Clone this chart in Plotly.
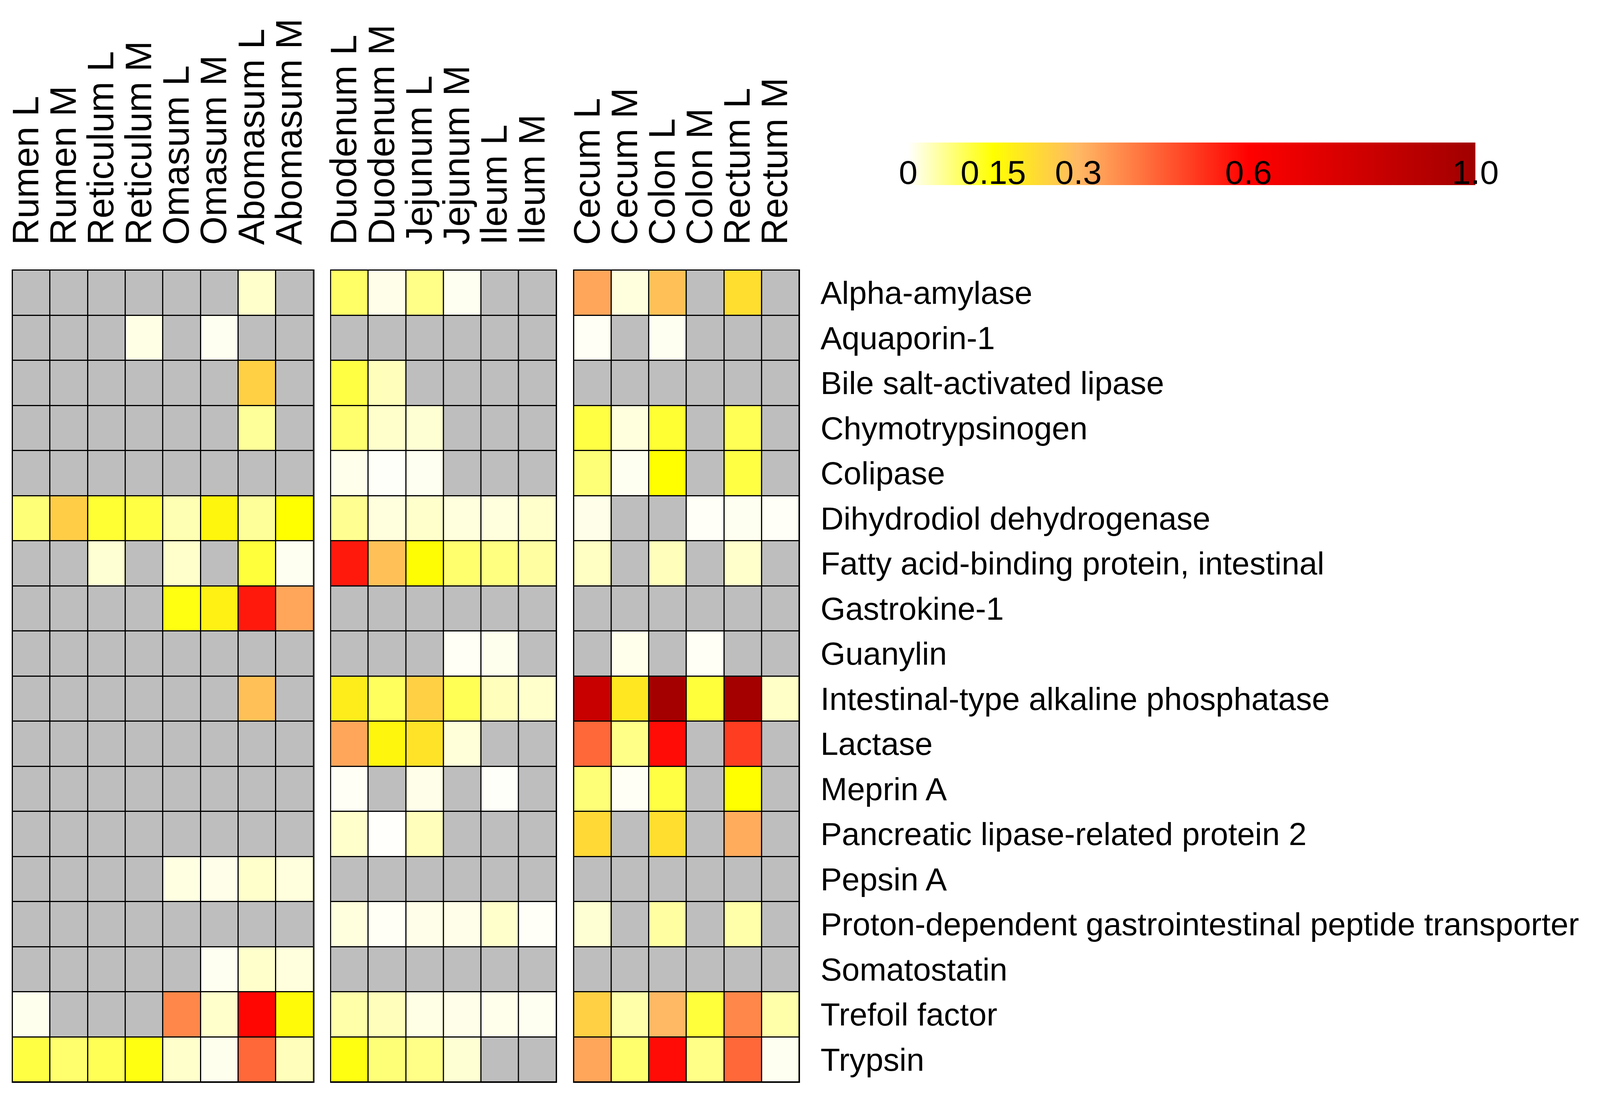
import plotly.graph_objects as go

genes = ["Alpha-amylase", "Aquaporin-1", "Bile salt-activated lipase", "Chymotrypsinogen",
         "Colipase", "Dihydrodiol dehydrogenase", "Fatty acid-binding protein, intestinal",
         "Gastrokine-1", "Guanylin", "Intestinal-type alkaline phosphatase", "Lactase",
         "Meprin A", "Pancreatic lipase-related protein 2", "Pepsin A",
         "Proton-dependent gastrointestinal peptide transporter", "Somatostatin",
         "Trefoil factor", "Trypsin"]

stomach_cols = ["Rumen L", "Rumen M", "Reticulum L", "Reticulum M",
                "Omasum L", "Omasum M", "Abomasum L", "Abomasum M"]
small_cols = ["Duodenum L", "Duodenum M", "Jejunum L", "Jejunum M", "Ileum L", "Ileum M"]
large_cols = ["Cecum L", "Cecum M", "Colon L", "Colon M", "Rectum L", "Rectum M"]

N = None
stomach_vals = [
    [N, N, N, N, N, N, 0.03, N],
    [N, N, N, 0.015, N, 0.008, N, N],
    [N, N, N, N, N, N, 0.25, N],
    [N, N, N, N, N, N, 0.06, N],
    [N, N, N, N, N, N, N, N],
    [0.08, 0.255, 0.12, 0.11, 0.045, 0.17, 0.06, 0.15],
    [N, N, 0.025, N, 0.03, N, 0.115, 0.008],
    [N, N, N, N, 0.14, 0.18, 0.56, 0.33],
    [N, N, N, N, N, N, N, N],
    [N, N, N, N, N, N, 0.28, N],
    [N, N, N, N, N, N, N, N],
    [N, N, N, N, N, N, N, N],
    [N, N, N, N, N, N, N, N],
    [N, N, N, N, 0.017, 0.013, 0.03, 0.02],
    [N, N, N, N, N, N, N, N],
    [N, N, N, N, N, 0.008, 0.03, 0.02],
    [0.01, N, N, N, 0.38, 0.03, 0.59, 0.16],
    [0.11, 0.085, 0.1, 0.14, 0.03, 0.01, 0.43, 0.04],
]
small_vals = [
    [0.09, 0.013, 0.07, 0.008, N, N],
    [N, N, N, N, N, N],
    [0.11, 0.04, N, N, N, N],
    [0.085, 0.03, 0.025, N, N, N],
    [0.012, 0.003, 0.008, N, N, N],
    [0.065, 0.02, 0.03, 0.02, 0.02, 0.03],
    [0.56, 0.28, 0.155, 0.085, 0.075, 0.055],
    [N, N, N, N, N, N],
    [N, N, N, 0.006, 0.01, N],
    [0.19, 0.095, 0.25, 0.1, 0.04, 0.03],
    [0.33, 0.17, 0.21, 0.022, N, N],
    [0.006, N, 0.013, N, 0.003, N],
    [0.03, 0.002, 0.04, N, N, N],
    [N, N, N, N, N, N],
    [0.02, 0.006, 0.013, 0.013, 0.03, 0.004],
    [N, N, N, N, N, N],
    [0.05, 0.04, 0.015, 0.013, 0.012, 0.008],
    [0.14, 0.08, 0.07, 0.025, N, N],
]
large_vals = [
    [0.33, 0.02, 0.28, N, 0.22, N],
    [0.006, N, 0.008, N, N, N],
    [N, N, N, N, N, N],
    [0.11, 0.02, 0.12, N, 0.1, N],
    [0.08, 0.008, 0.15, N, 0.11, N],
    [0.013, N, N, 0.004, 0.008, 0.004],
    [0.035, N, 0.04, N, 0.03, N],
    [N, N, N, N, N, N],
    [N, 0.012, N, 0.006, N, N],
    [0.83, 0.2, 0.98, 0.115, 0.98, 0.033],
    [0.43, 0.07, 0.58, N, 0.5, N],
    [0.08, 0.006, 0.11, N, 0.15, N],
    [0.23, N, 0.22, N, 0.32, N],
    [N, N, N, N, N, N],
    [0.025, N, 0.055, N, 0.05, N],
    [N, N, N, N, N, N],
    [0.25, 0.05, 0.3, 0.115, 0.38, 0.05],
    [0.33, 0.085, 0.58, 0.07, 0.43, 0.008],
]

tick_vals = [0, 0.15, 0.3, 0.6, 1.0]
tick_text = ["0", "0.15", "0.3", "0.6", "1.0"]

# The photographed area is about 4096 px wide; lay the reference out within it.
REF_W = 4843
CAP_W = 4096
SX = CAP_W / REF_W
BODY = 8  # page body margin
def X(ref):
    return ref * SX - BODY
def Y(ref):
    return ref - BODY

W, H = 4080, 2806
FONT = "Liberation Sans, Arial, sans-serif"
ROW_FONT = 82
COL_FONT = 94
CB_FONT = 86
NA_COLOR = "#BEBEBE"
colorscale = [[0.0, "#FFFFFF"], [0.15, "#FFFF00"], [0.3, "#FFB864"],
              [0.6, "#FF0000"], [1.0, "#A00000"]]

fig = go.Figure()
blocks = [(stomach_cols, stomach_vals, "x"),
          (small_cols, small_vals, "x2"),
          (large_cols, large_vals, "x3")]

for cols, vals, xa in blocks:
    mask = [[1 if v is None else None for v in row] for row in vals]
    fig.add_trace(go.Heatmap(z=mask, x=cols, y=genes, xaxis=xa, yaxis="y",
                             colorscale=[[0, NA_COLOR], [1, NA_COLOR]], showscale=False,
                             xgap=3, ygap=3, hoverinfo="skip"))
    fig.add_trace(go.Heatmap(z=vals, x=cols, y=genes, xaxis=xa, yaxis="y",
                             coloraxis="coloraxis", xgap=3, ygap=3))

# plot area geometry (pixels, figure coordinates)
left, right, top, bottom = X(38), X(2419), Y(692), Y(2771)
pw = right - left
ph = bottom - top
def dom(a, b):
    return [(X(a) - left) / pw, (X(b) - left) / pw]

def xaxis_cfg(cols, a, b):
    return dict(domain=dom(a, b), side="top", tickangle=-90, ticks="",
                tickmode="array", tickvals=cols, ticktext=cols,
                showgrid=False, zeroline=False, automargin=False,
                showline=True, mirror=True, linecolor="black", linewidth=2,
                tickfont=dict(family=FONT, size=COL_FONT, color="black"),
                ticklabelstandoff=44, ticklabelshift=-13, anchor="y", fixedrange=True)

cb_left, cb_top, cb_len = X(2737), Y(355), 1741 * SX

fig.update_layout(
    template="none",
    width=W, height=H, autosize=False,
    paper_bgcolor="white", plot_bgcolor="black",
    margin=dict(l=left, r=W - right, t=top, b=H - bottom, pad=0, autoexpand=False),
    font=dict(family=FONT, color="black"),
    xaxis=xaxis_cfg(stomach_cols, 38, 949),
    xaxis2=xaxis_cfg(small_cols, 1001, 1684),
    xaxis3=xaxis_cfg(large_cols, 1737, 2419),
    yaxis=dict(anchor="x3", side="right", autorange="reversed", ticks="",
               tickmode="array", tickvals=genes, ticktext=genes,
               showgrid=False, zeroline=False, showline=True, mirror="all",
               linecolor="black", linewidth=2, ticklabelstandoff=36, automargin=False,
               tickfont=dict(family=FONT, size=ROW_FONT, color="black"), fixedrange=True),
    coloraxis=dict(
        colorscale=colorscale, cmin=0, cmax=1,
        colorbar=dict(orientation="h", xref="paper", yref="paper",
                      x=(cb_left - left) / pw, xanchor="left",
                      y=(bottom - cb_top) / ph, yanchor="top",
                      len=cb_len, lenmode="pixels", thickness=109, thicknessmode="pixels",
                      outlinewidth=0, tickvals=tick_vals, ticktext=tick_text, ticks="",
                      ticklabelposition="inside", ticklabeloverflow="allow",
                      tickfont=dict(family=FONT, size=CB_FONT, color="black")),
    ),
)

fig.write_html("out.html")
